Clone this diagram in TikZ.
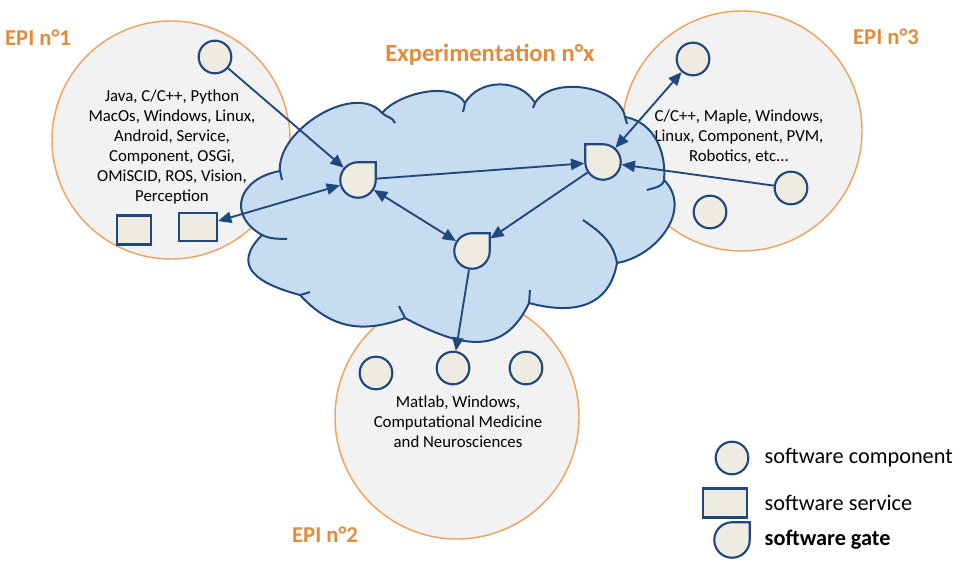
\documentclass[tikz,border=0pt]{standalone}
\usepackage{fontspec}
\setmainfont{Carlito}
\usetikzlibrary{arrows.meta, calc}
\definecolor{epnavy}{HTML}{1F497D}
\definecolor{eporange}{HTML}{E38A3B}
\definecolor{epring}{HTML}{EFA35F}
\definecolor{epgray}{HTML}{F2F2F2}
\definecolor{epcloud}{HTML}{C7DBF1}
\definecolor{epbeige}{HTML}{EEECE1}
% gate with the square corner top right / top left
\newcommand{\gatetr}[2]{%
  \node[gatenode] (#1) at (#2) {};
  \draw[gateline] (#1.center) ++(0pt,13.3pt) -| ++(13.3pt,-13.3pt) arc[start angle=0, end angle=-270, radius=13.3pt] -- cycle;}
\newcommand{\gatetl}[2]{%
  \node[gatenode] (#1) at (#2) {};
  \draw[gateline] (#1.center) ++(0pt,13.3pt) -| ++(-13.3pt,-13.3pt) arc[start angle=180, end angle=450, radius=13.3pt] -- cycle;}

\begin{document}
\begin{tikzpicture}[
  x=0.75pt, y=0.75pt,
  epi/.style={circle, draw=epring, line width=1.1pt, fill=epgray, inner sep=0pt},
  epititle/.style={font=\fontsize{17}{20}\selectfont\bfseries, text=eporange},
  epitext/.style={font=\fontsize{12.6}{15}\selectfont, align=center},
  comp/.style={circle, draw=epnavy, fill=epbeige, line width=1.6pt, minimum size=24.5pt, inner sep=0pt},
  serv/.style={rectangle, draw=epnavy, fill=epbeige, line width=1.6pt, inner sep=0pt},
  gatenode/.style={circle, minimum size=26.6pt, inner sep=0pt, outer sep=0.8pt},
  gateline/.style={draw=epnavy, fill=epbeige, line width=1.6pt},
  cloudline/.style={draw=epnavy, line width=1.5pt},
  link/.style={draw=epnavy, line width=1.4pt, -{Triangle[length=10pt,width=8.5pt]}},
  dlink/.style={link, {Triangle[length=10pt,width=8.5pt]}-{Triangle[length=10pt,width=8.5pt]}},
  legtext/.style={font=\fontsize{16.7}{20}\selectfont, anchor=west},
]
\useasboundingbox (0,0) rectangle (966,565);

% the three EPI
\node[epi, minimum size=178.5pt] (epi1) at (171,425) {};
\node[epi, minimum size=180pt] (epi3) at (742,434) {};
\node[epi, minimum size=183pt] (epi2) at (457,148) {};
\node[epitext] (t1) at (172,418) {Java, C/C++, Python\\MacOs, Windows, Linux,\\Android, Service,\\Component, OSGi,\\OMiSCID, ROS, Vision,\\Perception};
\node[epitext] (t3) at (739,428) {C/C++, Maple, Windows,\\Linux, Component, PVM,\\Robotics, etc...};
\node[epitext] (t2) at (458,143) {Matlab, Windows,\\Computational Medicine\\and Neurosciences};
\node[epititle] (n1) at (38,527) {EPI n°1};
\node[epititle] (n3) at (886,528) {EPI n°3};
\node[epititle] (n2) at (325,30) {EPI n°2};
\node[epititle, font=\fontsize{18.5}{22}\selectfont\bfseries] (nx) at (490,510) {Experimentation n°x};

% cloud
\filldraw[cloudline, fill=epcloud]
  (262,330) to[out=150,in=190,looseness=1.6] (280,394)
  to[out=95,in=130,looseness=0.9] (382,452)
  to[out=50,in=120,looseness=0.8] (465,462)
  to[out=60,in=120,looseness=1.05] (535,462)
  to[out=60,in=100,looseness=0.9] (625,448)
  to[out=-10,in=85,looseness=1.0] (664,385)
  to[out=-45,in=10,looseness=1.1] (617,302)
  to[out=260,in=-15,looseness=1.2] (529,262)
  to[out=245,in=-28,looseness=1.25] (405,247)
  to[out=200,in=-47,looseness=1.1] (300,270)
  to[out=165,in=225,looseness=1.6] (262,330) -- cycle;
\draw[cloudline] (280,394) -- (282,385);
\draw[cloudline] (382,452) to[out=-45,in=110] (395,442);
\draw[cloudline] (465,462) to[out=-80,in=95] (463,453);
\draw[cloudline] (535,462) -- (533,457);
\draw[cloudline] (625,448) to[out=-80,in=95] (627,441);
\draw[cloudline] (664,385) to[out=-100,in=20] (647,375);
\draw[cloudline] (583,345) to[out=-35,in=100] (617,302);
\draw[cloudline] (529,262) to[out=85,in=-95] (530,275);
\draw[cloudline] (405,247) to[out=110,in=-70] (399,259);
\draw[cloudline] (300,270) to[out=15,in=200] (310,273);
\draw[cloudline] (262,330) to[out=-25,in=178] (287,326);

% components and services
\node[comp] (c1a) at (215,508) {};
\node[serv, minimum width=25.5pt, minimum height=21.75pt] (s1a) at (134,335) {};
\node[serv, minimum width=28.5pt, minimum height=21pt] (s1b) at (198,338) {};
\node[comp] (c3a) at (693,506) {};
\node[comp] (c3b) at (791,377) {};
\node[comp] (c3c) at (710,353) {};
\node[comp] (c2a) at (376,192) {};
\node[comp] (c2b) at (453,197) {};
\node[comp] (c2c) at (526,197) {};

% gates
\gatetr{g1}{358,385}
\gatetl{g2}{603,403}
\gatetr{g3}{472,314}

% links
\draw[link] (c1a) -- (g1);
\draw[dlink] (g1) -- (s1b);
\draw[link] (g1) -- (g2);
\draw[dlink] (g1) -- (g3);
\draw[link, shorten >=2.5pt] (g2) -- (g3);
\draw[dlink] (g2) -- (c3a);
\draw[link] (c3b) -- (g2);
\draw[link] (g3) -- (c2b);

% legend
\node[comp] (lc) at (732,107) {};
\node[serv, minimum width=33pt, minimum height=21.75pt] (ls) at (725,62) {};
\gatetr{lg}{732,25}
\node[legtext] (lct) at (760,107) {software component};
\node[legtext] (lst) at (760,62) {software service};
\node[legtext, font=\fontsize{16.7}{20}\selectfont\bfseries] (lgt) at (760,25) {software gate};
\end{tikzpicture}
\end{document}
